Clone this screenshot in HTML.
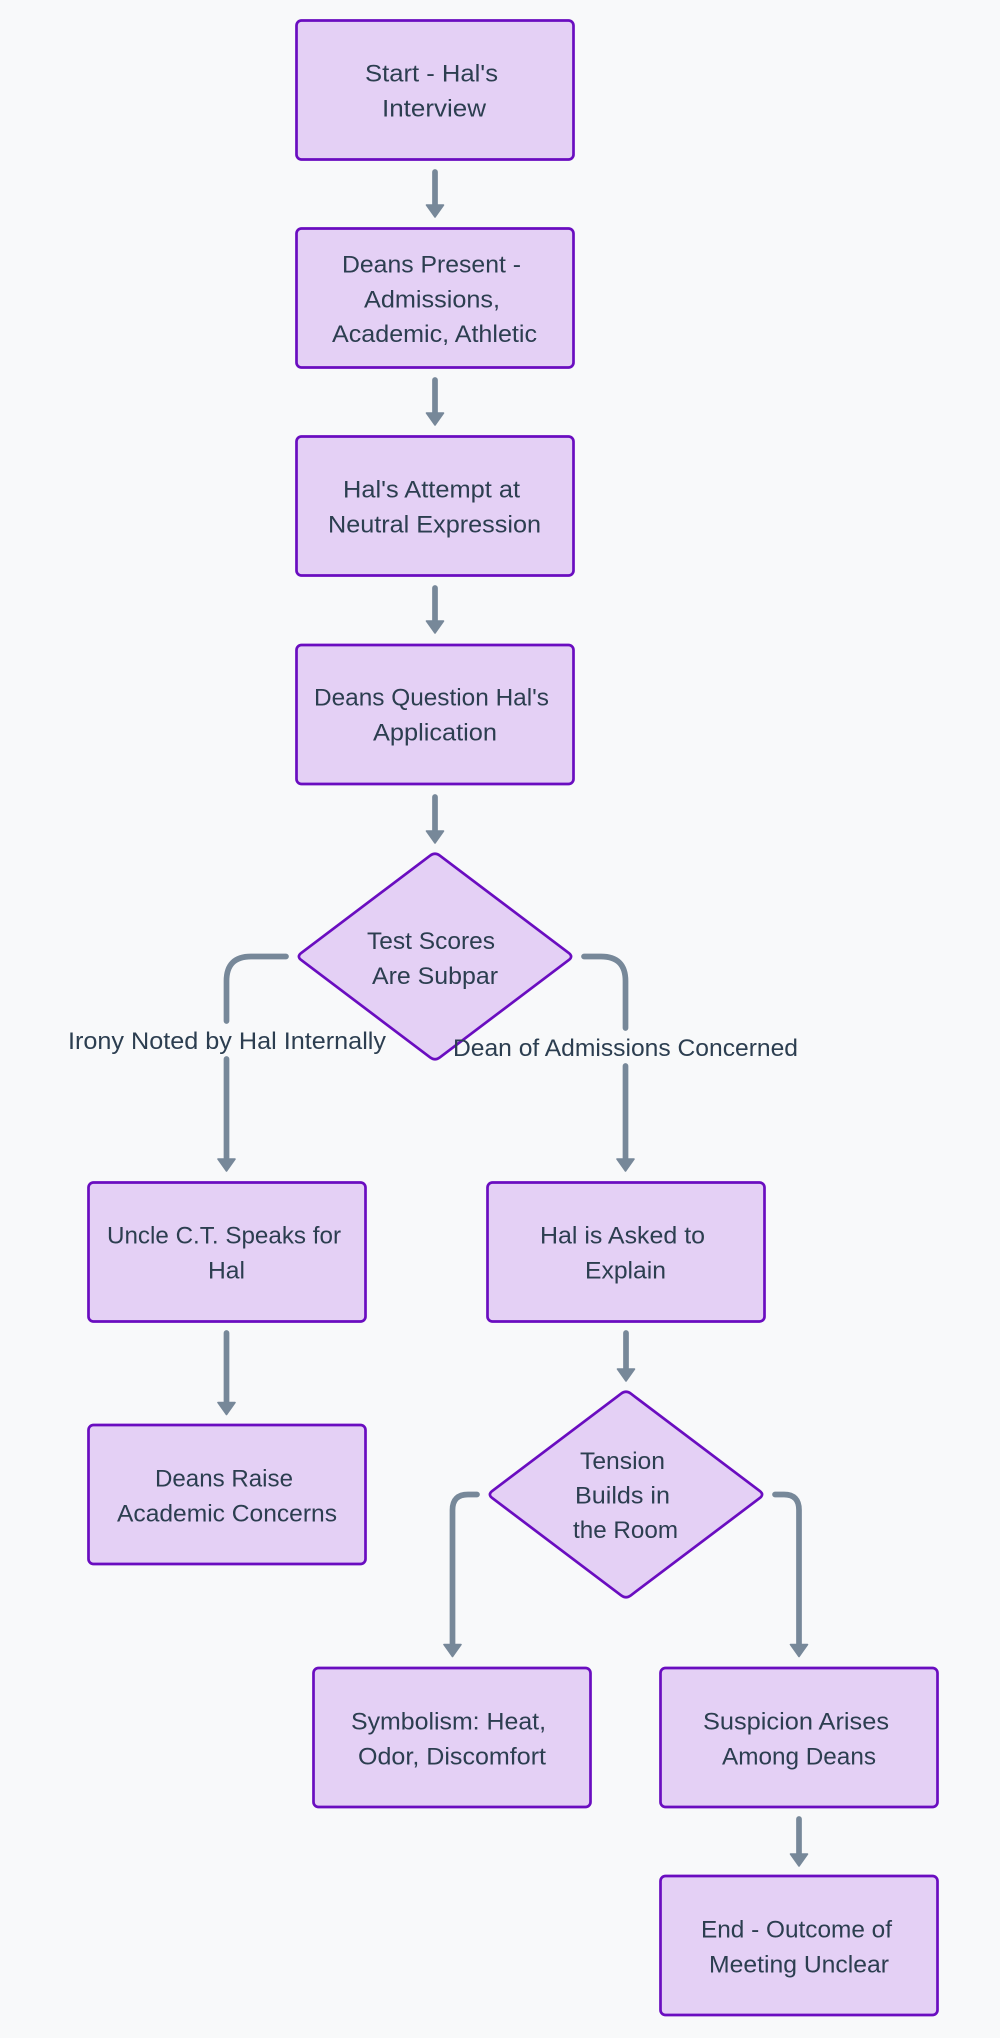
<!DOCTYPE html>
<html><head><meta charset="utf-8"><style>
html,body{margin:0;padding:0;background:#f8f9fa}
svg{display:block}
text{font-family:"Liberation Sans",sans-serif;font-size:24px;fill:#2c3e50}
.b{fill:#e4d0f5;stroke:#6a0dc0;stroke-width:2.7}
.e{fill:none;stroke:#778899;stroke-width:5.7;stroke-linecap:round}
.h{fill:#778899;stroke:#778899;stroke-width:1.6;stroke-linejoin:round}
</style></head><body>
<svg width="1000" height="2038" viewBox="0 0 1000 2038" xmlns="http://www.w3.org/2000/svg">
<rect width="1000" height="2038" fill="#f8f9fa"/>
<rect class="b" x="296.500" y="20.500" width="277" height="139" rx="5"/>
<rect class="b" x="296.500" y="228.500" width="277" height="139" rx="5"/>
<rect class="b" x="296.500" y="436.500" width="277" height="139" rx="5"/>
<rect class="b" x="296.500" y="645" width="277" height="139" rx="5"/>
<path class="b" d="M430.200 855.600Q435 852 439.800 855.600L568.700 952.900Q573.500 956.500 568.700 960.100L439.800 1057.400Q435 1061 430.200 1057.400L301.300 960.100Q296.500 956.500 301.300 952.900Z"/>
<rect class="b" x="88.500" y="1182.500" width="277" height="139" rx="5"/>
<rect class="b" x="487.500" y="1182.500" width="277" height="139" rx="5"/>
<rect class="b" x="88.500" y="1425" width="277" height="139" rx="5"/>
<path class="b" transform="translate(191 538)" d="M430.200 855.600Q435 852 439.800 855.600L568.700 952.900Q573.500 956.500 568.700 960.100L439.800 1057.400Q435 1061 430.200 1057.400L301.300 960.100Q296.500 956.500 301.300 952.900Z"/>
<rect class="b" x="313.500" y="1668" width="277" height="139" rx="5"/>
<rect class="b" x="660.500" y="1668" width="277" height="139" rx="5"/>
<rect class="b" x="660.500" y="1876" width="277" height="139" rx="5"/>
<path class="e" d="M435 172V206M435 380V414M435 588V622M435 797V832"/>
<path class="h" d="M426.500 205H443.500L435 217ZM426.500 413H443.500L435 425ZM426.500 621H443.500L435 633ZM426.500 831H443.500L435 843Z"/>
<path class="e" d="M286 956.500H251Q226.500 956.500 226.500 981V1021M226.500 1059V1160"/>
<path class="e" d="M584 956.500H601Q625.500 956.500 625.500 981V1028M625.500 1066V1160"/>
<path class="h" d="M218 1159H235L226.500 1171ZM617 1159H634L625.500 1171Z"/>
<path class="e" d="M226.500 1333V1403M626 1333V1370"/>
<path class="h" d="M218 1402.500H235L226.500 1414.500ZM617.500 1369H634.500L626 1381Z"/>
<path class="e" d="M477 1494.500H468Q452.500 1494.500 452.500 1510V1645"/>
<path class="e" d="M775 1494.500H784Q799 1494.500 799 1510V1645"/>
<path class="h" d="M444 1644.500H461L452.500 1656.500ZM790.500 1644.500H807.500L799 1656.500Z"/>
<path class="e" d="M799 1819V1855"/>
<path class="h" d="M790.500 1854H807.500L799 1866Z"/>
<text x="365" y="81.500" textLength="133" lengthAdjust="spacingAndGlyphs">Start - Hal's</text>
<text x="382" y="116.500" textLength="104" lengthAdjust="spacingAndGlyphs">Interview</text>
<text x="342" y="272.500" textLength="179" lengthAdjust="spacingAndGlyphs">Deans Present -</text>
<text x="364" y="307.500" textLength="136" lengthAdjust="spacingAndGlyphs">Admissions,</text>
<text x="332" y="342" textLength="205" lengthAdjust="spacingAndGlyphs">Academic, Athletic</text>
<text x="343" y="497.500" textLength="177" lengthAdjust="spacingAndGlyphs">Hal's Attempt at</text>
<text x="328" y="532.500" textLength="213" lengthAdjust="spacingAndGlyphs">Neutral Expression</text>
<text x="314" y="705.500" textLength="235" lengthAdjust="spacingAndGlyphs">Deans Question Hal's</text>
<text x="373" y="740.500" textLength="124" lengthAdjust="spacingAndGlyphs">Application</text>
<text x="367" y="949" textLength="128" lengthAdjust="spacingAndGlyphs">Test Scores</text>
<text x="372" y="984" textLength="126" lengthAdjust="spacingAndGlyphs">Are Subpar</text>
<text x="68" y="1049" textLength="318" lengthAdjust="spacingAndGlyphs">Irony Noted by Hal Internally</text>
<text x="453" y="1056" textLength="345" lengthAdjust="spacingAndGlyphs">Dean of Admissions Concerned</text>
<text x="107" y="1243.500" textLength="234" lengthAdjust="spacingAndGlyphs">Uncle C.T. Speaks for</text>
<text x="208" y="1278.500" textLength="37" lengthAdjust="spacingAndGlyphs">Hal</text>
<text x="540" y="1243.500" textLength="165" lengthAdjust="spacingAndGlyphs">Hal is Asked to</text>
<text x="585" y="1278.500" textLength="81" lengthAdjust="spacingAndGlyphs">Explain</text>
<text x="155" y="1486.500" textLength="138" lengthAdjust="spacingAndGlyphs">Deans Raise</text>
<text x="117" y="1521.500" textLength="220" lengthAdjust="spacingAndGlyphs">Academic Concerns</text>
<text x="580" y="1469" textLength="85" lengthAdjust="spacingAndGlyphs">Tension</text>
<text x="575" y="1503.500" textLength="95" lengthAdjust="spacingAndGlyphs">Builds in</text>
<text x="573" y="1538" textLength="105" lengthAdjust="spacingAndGlyphs">the Room</text>
<text x="351" y="1729.500" textLength="195" lengthAdjust="spacingAndGlyphs">Symbolism: Heat,</text>
<text x="358" y="1764.500" textLength="188" lengthAdjust="spacingAndGlyphs">Odor, Discomfort</text>
<text x="703" y="1729.500" textLength="186" lengthAdjust="spacingAndGlyphs">Suspicion Arises</text>
<text x="722" y="1764.500" textLength="154" lengthAdjust="spacingAndGlyphs">Among Deans</text>
<text x="701" y="1937.500" textLength="191" lengthAdjust="spacingAndGlyphs">End - Outcome of</text>
<text x="709" y="1972.500" textLength="180" lengthAdjust="spacingAndGlyphs">Meeting Unclear</text>
</svg>
</body></html>
